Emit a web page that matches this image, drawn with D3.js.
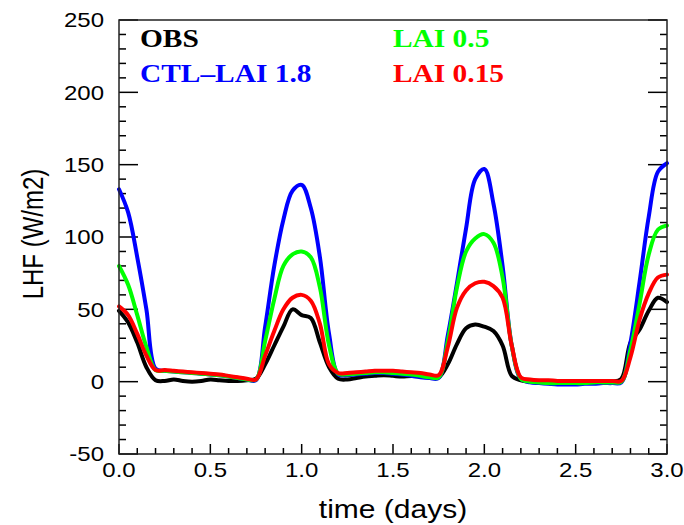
<!DOCTYPE html>
<html>
<head>
<meta charset="utf-8">
<script src="https://cdnjs.cloudflare.com/ajax/libs/d3/7.8.5/d3.min.js"></script>
<style>
  body { margin: 0; background: #fff; }
  svg { display: block; }
</style>
</head>
<body>
<div id="chart"></div>
<script>
// time axis (days), sampled every 0.05 day
var time = [0.00, 0.05, 0.10, 0.15, 0.20, 0.25, 0.30, 0.35, 0.40, 0.45,
            0.50, 0.55, 0.60, 0.65, 0.70, 0.75, 0.80, 0.85, 0.90, 0.95,
            1.00, 1.05, 1.10, 1.15, 1.20, 1.25, 1.30, 1.35, 1.40, 1.45,
            1.50, 1.55, 1.60, 1.65, 1.70, 1.75, 1.80, 1.85, 1.90, 1.95,
            2.00, 2.05, 2.10, 2.15, 2.20, 2.25, 2.30, 2.35, 2.40, 2.45,
            2.50, 2.55, 2.60, 2.65, 2.70, 2.75, 2.80, 2.85, 2.90, 2.95, 3.00];

var obs    = [49, 41, 27, 10, 1, 0.5, 1.5, 0.5, 0, 0.5,
              1.5, 1, 0.5, 0.5, 1, 2, 12, 25, 38, 50,
              46, 44, 27, 10, 2, 1.5, 2.5, 3.5, 4, 4.5,
              4, 3.5, 4, 3.5, 3, 3, 12, 26, 37, 39.5,
              38, 35, 25, 4, 1, 0, -0.5, -1, -1, -0.5,
              0, 0, -0.5, -0.5, 0, 2, 27, 36, 49, 58, 55];

var ctl    = [133, 117, 86, 50, 9, 7.5, 7, 6.5, 6, 5.5,
              5, 4.5, 3.5, 2.5, 1.5, 1, 38, 80, 112, 132,
              136, 120, 86, 33, 5, 4.5, 5, 5.5, 6, 6,
              5.5, 5, 4, 3, 2.5, 2.5, 32, 68, 106, 140,
              147, 123, 80, 25, 2, -0.5, -1, -1.5, -2, -2,
              -2, -1.5, -1.5, -1, -1, -0.5, 27, 69, 114, 145, 151];

var lai05  = [80, 67, 46, 24, 8, 7.5, 7, 6.5, 6, 5.5,
              5, 4.5, 3.5, 2.5, 1.5, 1.5, 28, 57, 80, 88,
              90, 86, 65, 25, 5.5, 5, 5.5, 6, 6.5, 6.5,
              6, 5.5, 5, 4, 3, 3, 28, 65, 90, 99,
              102, 96, 72, 25, 2, 0, -0.5, -1, -1, -1,
              -1, -1, -0.5, -0.5, -0.5, 0, 22, 54, 88, 105, 108];

var lai015 = [52, 46, 33, 18, 8, 8, 7.5, 7, 6.5, 6,
              5.5, 5, 4, 3, 2, 1.5, 18, 35, 50, 58,
              60, 56, 40, 12, 6, 6, 6.5, 7, 7.5, 7.5,
              7.5, 7, 6.5, 6, 5, 4.5, 24, 51, 63, 68,
              69, 66, 58, 25, 3, 1.5, 1, 1, 0.5, 0.5,
              0.5, 0.5, 0.5, 0.5, 0.5, 0.5, 17, 43, 61, 72, 74];

var seriesNames  = ["OBS", "CTL\u2013LAI 1.8", "LAI 0.5", "LAI 0.15"];
var seriesValues = [obs, ctl, lai05, lai015];
var seriesColors = ["#000000", "#0000ff", "#00ff00", "#ff0000"];

var xTicks = [0, 0.5, 1.0, 1.5, 2.0, 2.5, 3.0];
var yTicks = [-50, 0, 50, 100, 150, 200, 250];

var width = 684, height = 525;
var plotLeft = 119, plotRight = 667, plotTop = 20, plotBottom = 454;
var stretch = 1.2;

var x = d3.scaleLinear().domain([0, 3]).range([plotLeft, plotRight]);
var y = d3.scaleLinear().domain([-50, 250]).range([plotBottom, plotTop]);

var svg = d3.select("#chart")
    .append("svg")
    .attr("width", width)
    .attr("height", height);

// tick marks, all pointing inward
var yMinor = d3.range(-50, 251, 10);
var xMinor = d3.range(0, 31, 1).map(function(d) { return d / 10; });

var tickG = svg.append("g")
    .attr("stroke", "#000")
    .attr("stroke-width", 1.5);

tickG.selectAll(".ytl")
    .data(yMinor)
    .enter().append("line")
    .attr("x1", plotLeft)
    .attr("x2", function(d) { return plotLeft + (d % 50 == 0 ? 19 : 7); })
    .attr("y1", function(d) { return y(d); })
    .attr("y2", function(d) { return y(d); });

tickG.selectAll(".ytr")
    .data(yMinor)
    .enter().append("line")
    .attr("x1", plotRight)
    .attr("x2", function(d) { return plotRight - (d % 50 == 0 ? 19 : 7); })
    .attr("y1", function(d) { return y(d); })
    .attr("y2", function(d) { return y(d); });

tickG.selectAll(".xt")
    .data(xMinor)
    .enter().append("line")
    .attr("x1", function(d) { return x(d); })
    .attr("x2", function(d) { return x(d); })
    .attr("y1", plotBottom)
    .attr("y2", function(d, i) { return plotBottom - (i % 5 == 0 ? 10 : 6); });

// lines
var line = d3.line()
    .x(function(d, i) { return x(time[i]); })
    .y(function(d) { return y(d); })
    .curve(d3.curveCatmullRom.alpha(0.5));

svg.append("g")
    .selectAll("path")
    .data(seriesValues)
    .enter().append("path")
    .attr("d", line)
    .attr("fill", "none")
    .attr("stroke", function(d, i) { return seriesColors[i]; })
    .attr("stroke-width", 4)
    .attr("stroke-linejoin", "round")
    .attr("stroke-linecap", "round");

// frame
svg.append("rect")
    .attr("x", plotLeft)
    .attr("y", plotTop)
    .attr("width", plotRight - plotLeft)
    .attr("height", plotBottom - plotTop)
    .attr("fill", "none")
    .attr("stroke", "#222")
    .attr("stroke-width", 1.5);

// tick labels
var sans = "'Liberation Sans', Arial, Helvetica, sans-serif";

svg.append("g")
    .selectAll("text")
    .data(yTicks)
    .enter().append("text")
    .attr("transform", function(d) { return "translate(104," + y(d) + ") scale(" + stretch + ",1)"; })
    .attr("dy", "0.36em")
    .attr("text-anchor", "end")
    .style("font-family", sans)
    .style("font-size", "20px")
    .text(function(d) { return d; });

svg.append("g")
    .selectAll("text")
    .data(xTicks)
    .enter().append("text")
    .attr("transform", function(d) { return "translate(" + x(d) + ",477) scale(" + stretch + ",1)"; })
    .attr("text-anchor", "middle")
    .style("font-family", sans)
    .style("font-size", "20px")
    .text(function(d) { return d.toFixed(1); });

// axis titles
svg.append("text")
    .attr("transform", "translate(" + (plotLeft + plotRight) / 2 + ",518) scale(" + stretch + ",1)")
    .attr("text-anchor", "middle")
    .style("font-family", sans)
    .style("font-size", "25px")
    .text("time (days)");

svg.append("text")
    .attr("transform", "translate(43,234) scale(" + stretch + ",1) rotate(-90)")
    .attr("text-anchor", "middle")
    .style("font-family", sans)
    .style("font-size", "24px")
    .text("LHF (W/m2)");

// legend
var legendX = [140, 140, 393, 393];
var legendY = [47, 82, 47, 82];

svg.append("g")
    .selectAll("text")
    .data(seriesNames)
    .enter().append("text")
    .attr("transform", function(d, i) { return "translate(" + legendX[i] + "," + legendY[i] + ") scale(" + stretch + ",1)"; })
    .style("font-family", "'Liberation Serif', 'Times New Roman', serif")
    .style("font-weight", "bold")
    .style("font-size", "24.5px")
    .attr("fill", function(d, i) { return seriesColors[i]; })
    .text(function(d) { return d; });
</script>
</body>
</html>
